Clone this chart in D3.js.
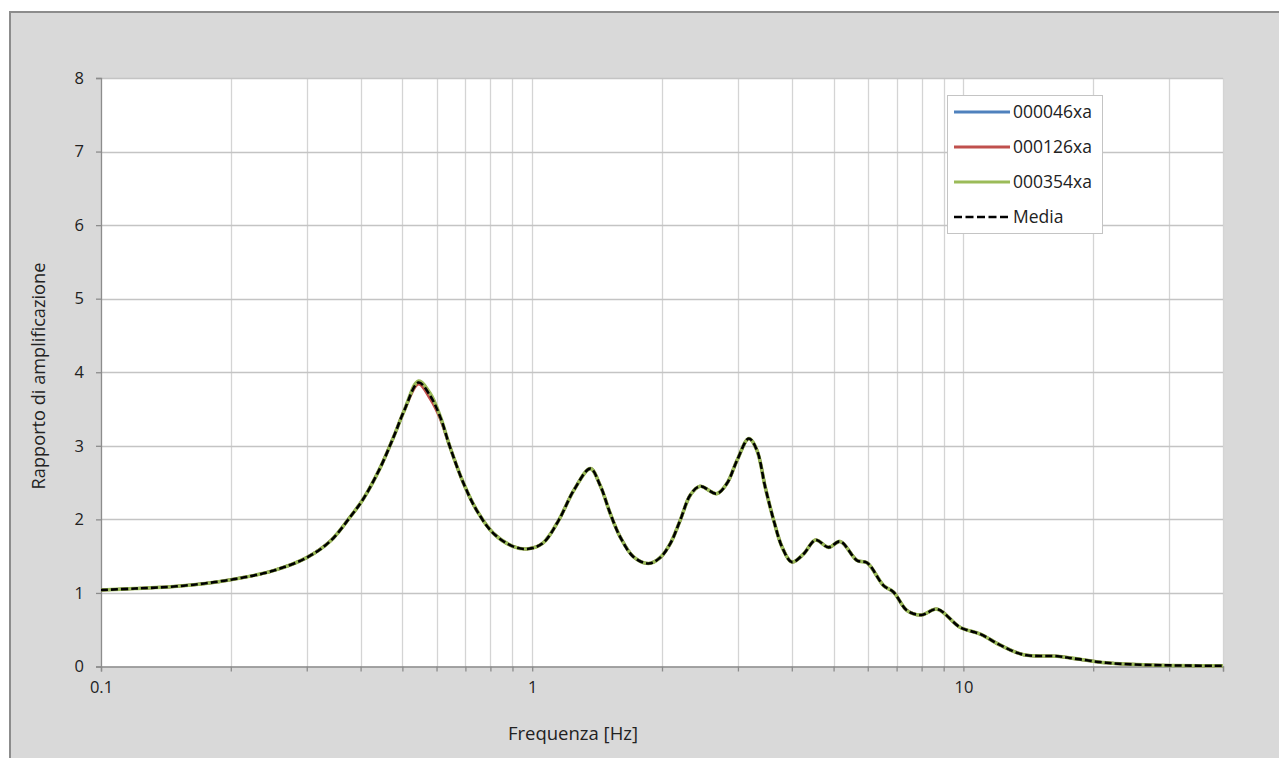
<!DOCTYPE html>
<html>
<head>
<meta charset="utf-8">
<script src="https://cdn.jsdelivr.net/npm/d3@7"></script>
<style>
  html, body { margin: 0; padding: 0; background: #ffffff; }
  svg { display: block; }
  text { font-family: "Open Sans", "Liberation Sans", sans-serif; fill: #222; }
</style>
</head>
<body>
<svg id="chart" width="1279" height="758"></svg>
<script>
// ---- data ----
const freq = [0.1, 0.12, 0.15, 0.2, 0.25, 0.3, 0.341, 0.378, 0.406, 0.444, 0.477, 0.505, 0.545, 0.58, 0.612, 0.645, 0.693, 0.744, 0.813, 0.905, 0.98, 1.06, 1.15, 1.25, 1.364, 1.438, 1.517, 1.60, 1.718, 1.862, 1.98, 2.09, 2.205, 2.326, 2.45, 2.68, 2.83, 2.985, 3.18, 3.32, 3.47, 3.63, 3.80, 4.0, 4.26, 4.54, 4.87, 5.18, 5.67, 5.98, 6.53, 6.89, 7.4, 8.0, 8.69, 9.84, 10.95, 12.18, 13.8, 16.5, 18.0, 21.5, 27.2, 40];

const s000046xa = [1.04, 1.06, 1.09, 1.18, 1.30, 1.48, 1.71, 2.03, 2.28, 2.70, 3.12, 3.48, 3.87, 3.70, 3.39, 2.98, 2.49, 2.12, 1.81, 1.63, 1.60, 1.68, 1.98, 2.40, 2.69, 2.46, 2.08, 1.76, 1.49, 1.40, 1.48, 1.67, 1.99, 2.33, 2.45, 2.35, 2.49, 2.80, 3.10, 2.94, 2.44, 1.99, 1.62, 1.42, 1.53, 1.72, 1.62, 1.70, 1.44, 1.41, 1.10, 1.01, 0.76, 0.70, 0.78, 0.53, 0.44, 0.29, 0.16, 0.14, 0.11, 0.05, 0.02, 0.01];
const s000126xa = [1.04, 1.06, 1.09, 1.18, 1.30, 1.48, 1.71, 2.03, 2.28, 2.70, 3.12, 3.48, 3.84, 3.64, 3.37, 2.98, 2.49, 2.12, 1.81, 1.63, 1.60, 1.68, 1.98, 2.40, 2.69, 2.46, 2.08, 1.76, 1.49, 1.40, 1.48, 1.67, 1.99, 2.33, 2.45, 2.35, 2.49, 2.80, 3.10, 2.94, 2.44, 1.99, 1.62, 1.42, 1.53, 1.72, 1.62, 1.70, 1.44, 1.41, 1.10, 1.01, 0.76, 0.70, 0.78, 0.53, 0.44, 0.29, 0.16, 0.14, 0.11, 0.05, 0.02, 0.01];
const s000354xa = [1.04, 1.06, 1.09, 1.18, 1.30, 1.48, 1.71, 2.03, 2.28, 2.70, 3.12, 3.48, 3.88, 3.71, 3.40, 2.98, 2.49, 2.12, 1.81, 1.63, 1.60, 1.68, 1.98, 2.40, 2.69, 2.46, 2.08, 1.76, 1.49, 1.40, 1.48, 1.67, 1.99, 2.33, 2.45, 2.35, 2.49, 2.80, 3.10, 2.94, 2.44, 1.99, 1.62, 1.42, 1.53, 1.72, 1.62, 1.70, 1.44, 1.41, 1.10, 1.01, 0.76, 0.70, 0.78, 0.53, 0.44, 0.29, 0.16, 0.14, 0.11, 0.05, 0.02, 0.01];
const media = [1.04, 1.06, 1.09, 1.18, 1.30, 1.48, 1.71, 2.03, 2.28, 2.70, 3.12, 3.48, 3.86, 3.68, 3.39, 2.98, 2.49, 2.12, 1.81, 1.63, 1.60, 1.68, 1.98, 2.40, 2.69, 2.46, 2.08, 1.76, 1.49, 1.40, 1.48, 1.67, 1.99, 2.33, 2.45, 2.35, 2.49, 2.80, 3.10, 2.94, 2.44, 1.99, 1.62, 1.42, 1.53, 1.72, 1.62, 1.70, 1.44, 1.41, 1.10, 1.01, 0.76, 0.70, 0.78, 0.53, 0.44, 0.29, 0.16, 0.14, 0.11, 0.05, 0.02, 0.01];

const seriesNames = ["000046xa", "000126xa", "000354xa", "Media"];
const xTickLabels = [0.1, 1, 10];
const xGridValues = [0.2, 0.3, 0.4, 0.5, 0.6, 0.7, 0.8, 0.9, 1, 2, 3, 4, 5, 6, 7, 8, 9, 10, 20, 30, 40];
const yTicks = [0, 1, 2, 3, 4, 5, 6, 7, 8];
const xDomain = [0.1, 40];
const yDomain = [0, 8];

// ---- layout ----
const svg = d3.select("#chart");
const W = 1279, H = 758;
const plot = { left: 101, right: 1223, top: 78, bottom: 666.5 };

// outer chart area
svg.append("rect").attr("x", 0).attr("y", 0).attr("width", W).attr("height", H).attr("fill", "#ffffff");
svg.append("rect").attr("x", 10).attr("y", 12).attr("width", W + 20).attr("height", H + 20)
  .attr("fill", "#d9d9d9").attr("stroke", "#8c8c8c").attr("stroke-width", 2);

const x = d3.scaleLog().domain(xDomain).range([plot.left, plot.right]);
const y = d3.scaleLinear().domain(yDomain).range([plot.bottom, plot.top]);

// plot area
svg.append("rect").attr("x", plot.left).attr("y", plot.top)
  .attr("width", plot.right - plot.left).attr("height", plot.bottom - plot.top).attr("fill", "#ffffff");

// vertical gridlines
svg.append("g").selectAll("line").data(xGridValues).join("line")
  .attr("x1", d => Math.round(x(d)) + 0.5).attr("x2", d => Math.round(x(d)) + 0.5)
  .attr("y1", plot.top).attr("y2", plot.bottom)
  .attr("stroke", "#d4d4d4").attr("stroke-width", 1.3);

// horizontal gridlines
svg.append("g").selectAll("line").data(yTicks.filter(d => d > 0)).join("line")
  .attr("x1", plot.left).attr("x2", plot.right)
  .attr("y1", d => Math.round(y(d)) + 0.5).attr("y2", d => Math.round(y(d)) + 0.5)
  .attr("stroke", "#c4c4c4").attr("stroke-width", 1.3);

// y axis
const yAxis = d3.axisLeft(y).tickValues(yTicks).tickSize(5).tickPadding(12).tickFormat(d3.format("d"));
const gy = svg.append("g").attr("transform", `translate(${plot.left},0)`).call(yAxis);
gy.select(".domain").attr("stroke", "#8c8c8c").attr("stroke-width", 1.3);
gy.selectAll(".tick line").attr("stroke", "#8c8c8c").attr("stroke-width", 1.3);
gy.selectAll(".tick text").attr("font-size", 16.5).attr("font-family", "Open Sans, sans-serif").attr("fill", "#222");

// x axis
const xAxis = d3.axisBottom(x).tickValues([0.1].concat(xGridValues)).tickSize(5).tickPadding(10)
  .tickFormat(d => xTickLabels.includes(d) ? String(d) : "");
const gx = svg.append("g").attr("transform", `translate(0,${plot.bottom})`).call(xAxis);
gx.select(".domain").attr("stroke", "#8c8c8c").attr("stroke-width", 1.3);
gx.selectAll(".tick line").attr("stroke", "#8c8c8c").attr("stroke-width", 1.3);
gx.selectAll(".tick text").attr("font-size", 16.5).attr("font-family", "Open Sans, sans-serif").attr("fill", "#222");

// axis titles
svg.append("text").attr("x", 573).attr("y", 740).attr("text-anchor", "middle")
  .attr("font-size", 18.5).text("Frequenza [Hz]");
svg.append("text").attr("transform", "translate(45,376) rotate(-90)").attr("text-anchor", "middle")
  .attr("font-size", 18.2).text("Rapporto di amplificazione");

// series
const seriesData = [s000046xa, s000126xa, s000354xa, media];
const colors = ["#4f81bd", "#c0504d", "#9bbb59", "#000000"];
const widths = [3, 3, 3.6, 2.6];
const dashes = [null, null, null, "7,3"];

const line = d3.line()
  .x(d => x(d[0])).y(d => y(d[1]))
  .curve(d3.curveCatmullRom.alpha(0.5));

const clip = svg.append("defs").append("clipPath").attr("id", "clip");
clip.append("rect").attr("x", plot.left).attr("y", plot.top - 5)
  .attr("width", plot.right - plot.left + 2).attr("height", plot.bottom - plot.top + 8);

const gl = svg.append("g").attr("clip-path", "url(#clip)");
seriesData.forEach((vals, i) => {
  gl.append("path")
    .datum(freq.map((f, k) => [f, vals[k]]))
    .attr("fill", "none")
    .attr("stroke", colors[i])
    .attr("stroke-width", widths[i])
    .attr("stroke-dasharray", dashes[i])
    .attr("stroke-linejoin", "round")
    .attr("d", line);
});

// legend
const lg = svg.append("g");
lg.append("rect").attr("x", 947.5).attr("y", 95.5).attr("width", 155).attr("height", 138)
  .attr("fill", "#ffffff").attr("stroke", "#c4c4c4").attr("stroke-width", 1);
seriesNames.forEach((name, i) => {
  const yy = 112 + i * 35;
  lg.append("line").attr("x1", 954).attr("x2", 1010).attr("y1", yy).attr("y2", yy)
    .attr("stroke", colors[i]).attr("stroke-width", i === 3 ? 2.6 : 3)
    .attr("stroke-dasharray", i === 3 ? "8,3.5" : null);
  lg.append("text").attr("x", 1013).attr("y", yy + 6).attr("font-size", 17.5).text(name);
});
</script>
</body>
</html>
